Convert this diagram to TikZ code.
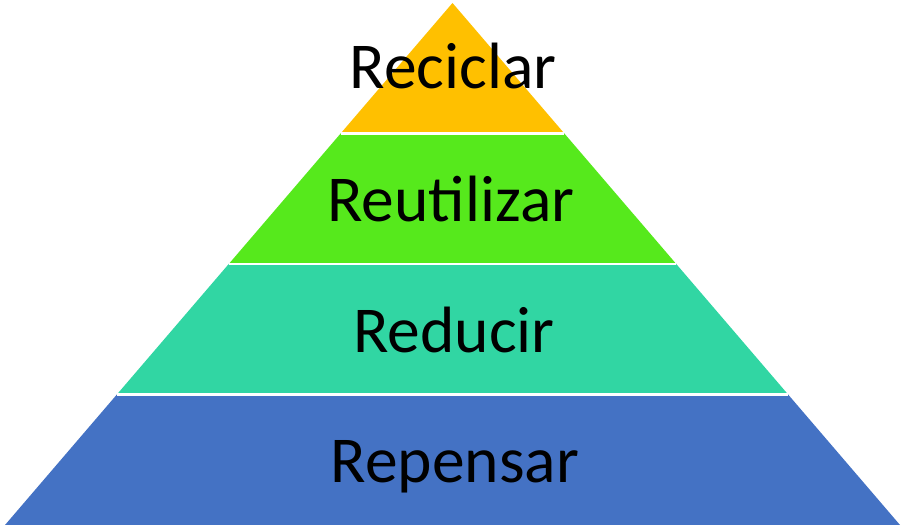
\documentclass[tikz,border=0pt]{standalone}
\usepackage{fontspec}
\setmainfont{Carlito}
\usetikzlibrary{calc}
\definecolor{cyellow}{HTML}{FFC000}
\definecolor{cgreen}{HTML}{56E91C}
\definecolor{cteal}{HTML}{31D6A3}
\definecolor{cblue}{HTML}{4472C4}
\tikzset{
  lbl/.style={anchor=base, inner sep=0pt, font=\fontsize{65.5}{65.5}\selectfont, text=black},
  sep/.style={draw=white, line width=2.5pt}
}
\begin{document}
\begin{tikzpicture}[x=1pt,y=-1pt]
\useasboundingbox (0,0) rectangle (906,529);
\coordinate (A) at (452.5,3);
\coordinate (BL) at (5,525);
\coordinate (BR) at (900,525);
\coordinate (L1) at ($(A)!0.25!(BL)$);
\coordinate (R1) at ($(A)!0.25!(BR)$);
\coordinate (L2) at ($(A)!0.5!(BL)$);
\coordinate (R2) at ($(A)!0.5!(BR)$);
\coordinate (L3) at ($(A)!0.75!(BL)$);
\coordinate (R3) at ($(A)!0.75!(BR)$);
\fill[cyellow] (A) -- (R1) -- (L1) -- cycle;
\fill[cgreen] (L1) -- (R1) -- (R2) -- (L2) -- cycle;
\fill[cteal] (L2) -- (R2) -- (R3) -- (L3) -- cycle;
\fill[cblue] (L3) -- (R3) -- (BR) -- (BL) -- cycle;
\draw[sep] (L1) -- (R1);
\draw[sep] (L2) -- (R2);
\draw[sep] (L3) -- (R3);
\node[lbl] (t1) at (453,89) {Reciclar};
\node[lbl] (t2) at (451,222) {Reutilizar};
\node[lbl] (t3) at (454,353) {Reducir};
\node[lbl] (t4) at (455,483) {Repensar};
\end{tikzpicture}
\end{document}
